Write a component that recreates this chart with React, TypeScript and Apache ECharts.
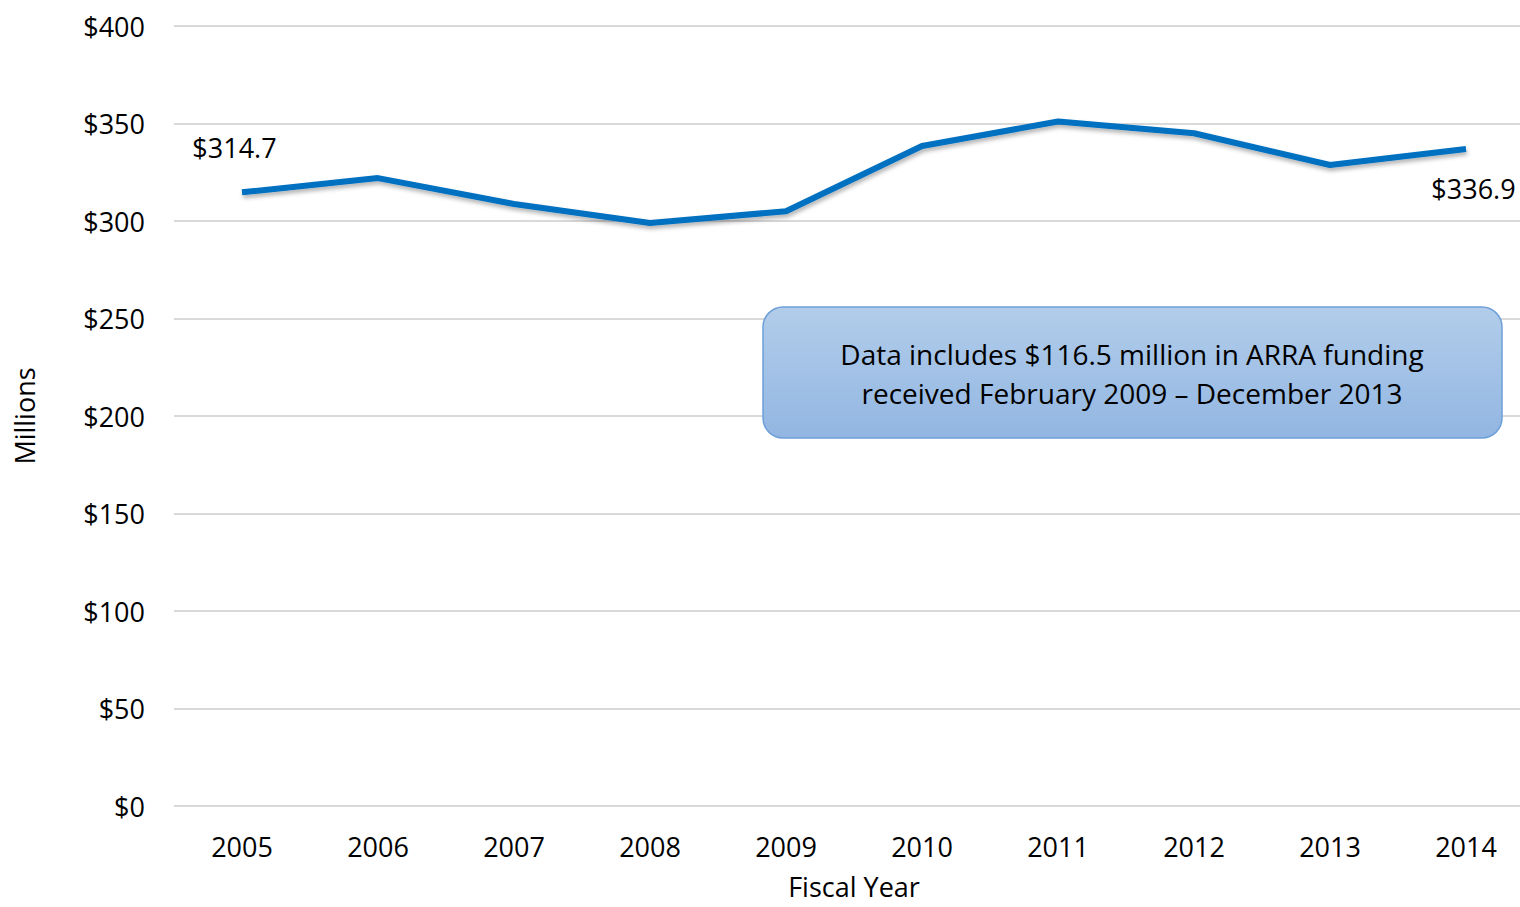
import React, { useEffect, useRef } from "react";
import * as echarts from "echarts";

const years = ["2005", "2006", "2007", "2008", "2009", "2010", "2011", "2012", "2013", "2014"];
const funding = [314.7, 322, 308.7, 299, 305, 338.5, 351, 345, 328.7, 336.9];
const yTicks = { min: 0, max: 400, interval: 50 };
const noteLines = ["Data includes $116.5 million in ARRA funding", "received February 2009 \u2013 December 2013"];

const FONT = "'Open Sans', 'Noto Sans', sans-serif";
const FS = 27;

export default function App() {
  const ref = useRef<HTMLDivElement>(null);
  useEffect(() => {
    document.body.style.margin = "0";
    const chart = echarts.init(ref.current!, null, { renderer: "svg" });
    const last = funding.length - 1;
    const data = funding.map((v, i) => {
      if (i === 0)
        return {
          value: v,
          label: { show: true, position: [-7, -44], align: "center", verticalAlign: "middle", formatter: "$" + v.toFixed(1) },
        };
      if (i === last)
        return {
          value: v,
          label: { show: true, position: [8, 40], align: "center", verticalAlign: "middle", formatter: "$" + v.toFixed(1) },
        };
      return { value: v };
    });
    chart.setOption({
      animation: false,
      textStyle: { fontFamily: FONT },
      grid: { left: 174, top: 26, bottom: 101, width: 1360, containLabel: false, outerBoundsMode: "none" },
      xAxis: {
        type: "category",
        data: years,
        boundaryGap: true,
        axisLine: { show: false },
        axisTick: { show: false },
        axisLabel: { color: "#000", fontSize: FS, margin: 27, fontFamily: FONT },
        name: "Fiscal Year",
        nameLocation: "middle",
        nameGap: 67,
        nameTextStyle: { color: "#000", fontSize: FS, lineHeight: 27, fontFamily: FONT },
      },
      yAxis: {
        type: "value",
        min: yTicks.min,
        max: yTicks.max,
        interval: yTicks.interval,
        axisLine: { show: false },
        axisTick: { show: false },
        axisLabel: { color: "#000", fontSize: FS, margin: 29, formatter: (v: number) => "$" + v, fontFamily: FONT },
        splitLine: { lineStyle: { color: "#d9d9d9", width: 2 } },
        name: "Millions",
        nameLocation: "middle",
        nameGap: 136,
        nameTextStyle: { color: "#000", fontSize: FS, fontFamily: FONT },
      },
      series: [
        {
          type: "line",
          data,
          symbol: "circle",
          symbolSize: 1,
          showSymbol: true,
          itemStyle: { color: "rgba(0,0,0,0)" },
          lineStyle: {
            color: "#0070c0",
            width: 6,
            shadowColor: "rgba(0,0,0,0.3)",
            shadowBlur: 4,
            shadowOffsetX: 1,
            shadowOffsetY: 3,
          },
          label: { color: "#000", fontSize: FS, fontFamily: FONT },
          labelLayout: { hideOverlap: false },
        },
      ],
      graphic: [
        {
          type: "rect",
          shape: { x: 763, y: 307, width: 739, height: 131, r: 20 },
          style: {
            fill: new echarts.graphic.LinearGradient(0, 0, 0, 1, [
              { offset: 0, color: "#b2cdea" },
              { offset: 1, color: "#92b6e2" },
            ]),
            stroke: "#6e9fd8",
            lineWidth: 1.5,
          },
          z: 10,
        },
        {
          type: "text",
          x: 1132,
          y: 354,
          style: { text: noteLines[0], fill: "#000", font: `28px ${FONT}`, textAlign: "center", textVerticalAlign: "middle" },
          z: 11,
        },
        {
          type: "text",
          x: 1132,
          y: 393,
          style: { text: noteLines[1], fill: "#000", font: `28px ${FONT}`, textAlign: "center", textVerticalAlign: "middle" },
          z: 11,
        },
      ],
    });
    return () => chart.dispose();
  }, []);
  return <div ref={ref} style={{ position: "absolute", left: 0, top: 0, width: 1520, height: 907 }} />;
}
